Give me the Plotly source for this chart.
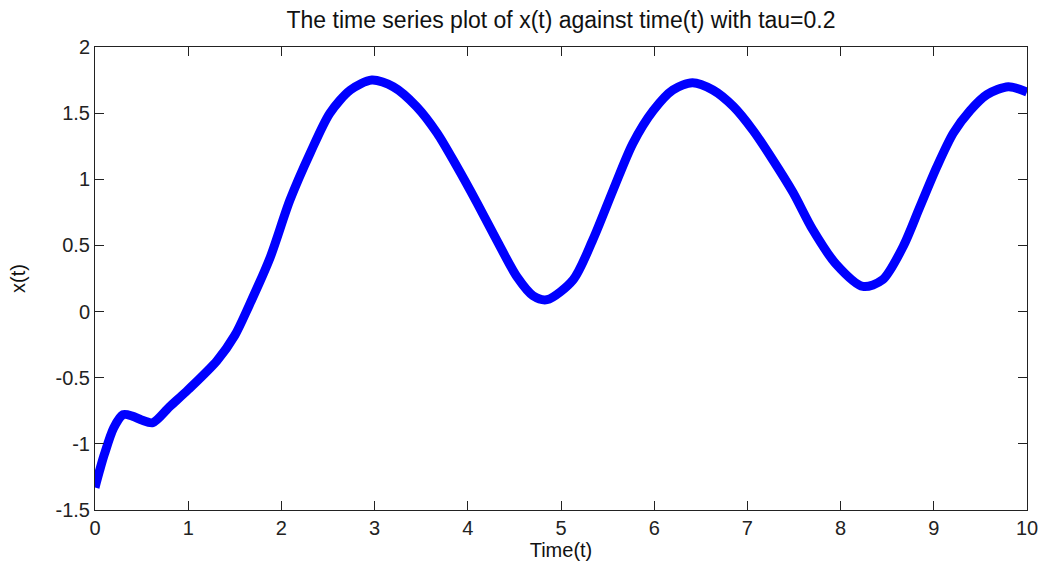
import plotly.graph_objects as go

t = [0.0, 0.05, 0.1, 0.2, 0.3, 0.4, 0.5, 0.62, 0.8, 1.0, 1.31, 1.5, 1.65, 1.88, 2.09,
     2.31, 2.52, 2.74, 2.97, 3.20, 3.45, 3.67, 3.88, 4.10, 4.31, 4.53, 4.70, 4.85,
     5.13, 5.34, 5.56, 5.77, 5.99, 6.20, 6.41, 6.63, 6.85, 7.06, 7.27, 7.49, 7.70,
     7.95, 8.24, 8.45, 8.67, 8.85, 9.03, 9.21, 9.39, 9.57, 9.80, 10.0]
x = [-1.33, -1.2, -1.08, -0.88, -0.78, -0.79, -0.82, -0.84, -0.72, -0.59, -0.37, -0.18, 0.04, 0.41, 0.84,
     1.20, 1.50, 1.675, 1.75, 1.70, 1.55, 1.35, 1.10, 0.82, 0.54, 0.26, 0.12, 0.09,
     0.24, 0.54, 0.92, 1.27, 1.52, 1.675, 1.73, 1.675, 1.55, 1.37, 1.15, 0.90, 0.62,
     0.36, 0.19, 0.24, 0.49, 0.79, 1.09, 1.35, 1.52, 1.64, 1.70, 1.66]

x_ticks = list(range(0, 11))
y_ticks = [-1.5, -1, -0.5, 0, 0.5, 1, 1.5, 2]
y_tick_text = ["-1.5", "-1", "-0.5", "0", "0.5", "1", "1.5", "2"]

FONT = "Liberation Sans"
fig = go.Figure(go.Scatter(x=t, y=x, mode="lines",
                           line=dict(color="#0000ff", width=9, shape="spline", smoothing=0.8)))

axis_common = dict(showgrid=False, zeroline=False, showline=True, linecolor="#222222",
                   linewidth=1, mirror="ticks", ticks="inside", ticklen=9, automargin=False,
                   tickcolor="#222222", tickfont=dict(family=FONT, size=20, color="#222222"))

fig.update_layout(
    width=1041, height=576,
    margin=dict(l=95, r=14, t=47, b=66),
    paper_bgcolor="white", plot_bgcolor="white",
    showlegend=False,
    title=dict(text="The time series plot of x(t) against time(t) with tau=0.2",
               xref="paper", x=0.5, xanchor="center", yref="container", y=0.965, yanchor="middle",
               font=dict(family=FONT, size=23, color="#111111")),
    xaxis=dict(range=[0, 10], tickvals=x_ticks, title=dict(text="Time(t)", standoff=4,
               font=dict(family=FONT, size=20, color="#111111")), **axis_common),
    yaxis=dict(range=[-1.5, 2], tickvals=y_ticks, ticktext=y_tick_text,
               title=dict(text="x(t)", standoff=24,
                          font=dict(family=FONT, size=20, color="#111111")), **axis_common),
)

fig.write_html("out.html")
